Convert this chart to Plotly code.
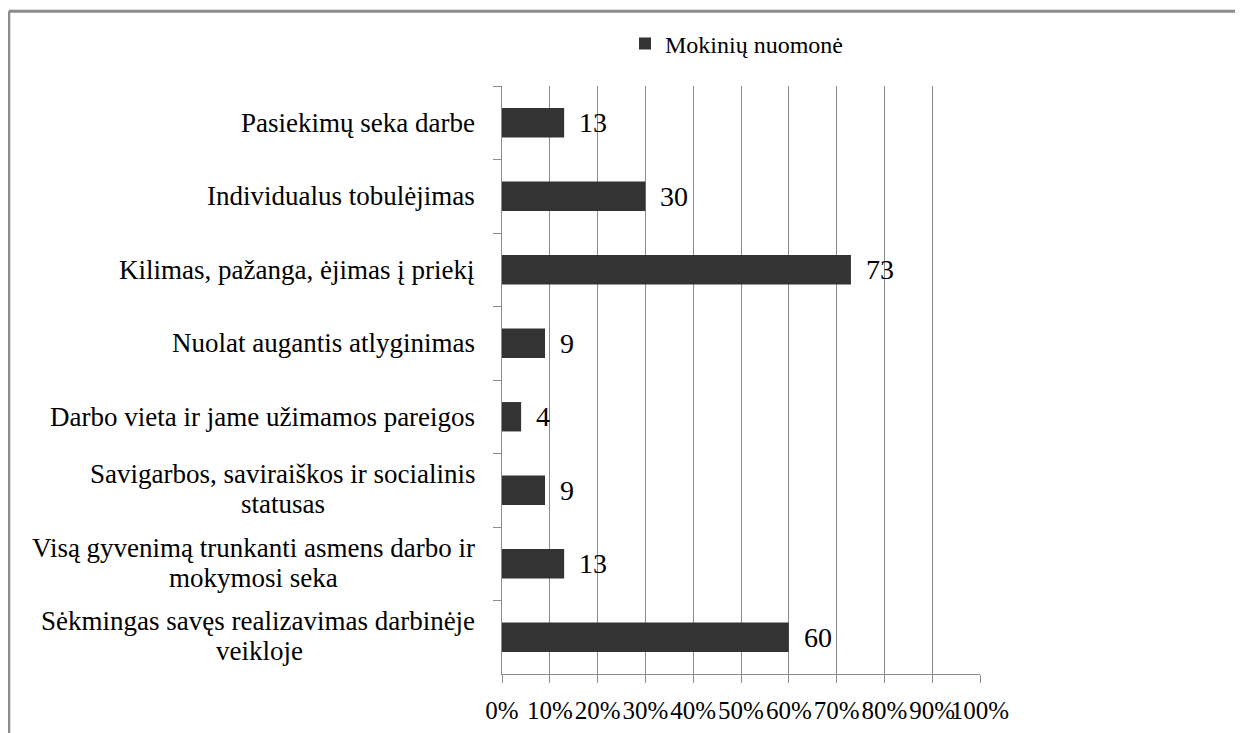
import plotly.graph_objects as go

categories = [
    "Pasiekimų seka darbe",
    "Individualus tobulėjimas",
    "Kilimas, pažanga, ėjimas į priekį",
    "Nuolat augantis atlyginimas",
    "Darbo vieta ir jame užimamos pareigos",
    "Savigarbos, saviraiškos ir socialinis<br>statusas",
    "Visą gyvenimą trunkanti asmens darbo ir<br>mokymosi seka",
    "Sėkmingas savęs realizavimas darbinėje<br>veikloje",
]
values = [13, 30, 73, 9, 4, 9, 13, 60]
series_name = "Mokinių nuomonė"
tick_vals = [0, 10, 20, 30, 40, 50, 60, 70, 80, 90, 100]
tick_text = [f"{v}%" for v in tick_vals]

FONT = "Liberation Serif"
GRID = "#8c8c8c"

# page body adds an 8px offset; figure coordinates below are page - 8
W, H = 1235, 725
px_l, px_r, px_t, px_b = 494, 972, 78, 666

def fx(p):
    return (p - px_l) / (px_r - px_l)
def fy(p):
    return (px_b - p) / (px_b - px_t)

fig = go.Figure()
fig.add_trace(go.Bar(
    x=values, y=categories, orientation="h", name=series_name,
    marker=dict(color="#333333", line=dict(width=0)),
    showlegend=True,
))

# approximate Times/Liberation Serif advance widths (em) to center following lines
W_EM = {}
for ch in "ilj.,'|!:;": W_EM[ch] = 0.278
for ch in "frtį": W_EM[ch] = 0.333
for ch in "sž": W_EM[ch] = 0.389
for ch in "ceėęazšą": W_EM[ch] = 0.444
for ch in "bdghknopquvxyų": W_EM[ch] = 0.5
W_EM["m"] = 0.778; W_EM["w"] = 0.722; W_EM[" "] = 0.25
W_EM.update({"S": 0.556, "V": 0.722, "P": 0.556, "I": 0.333, "K": 0.722, "N": 0.722, "D": 0.722})
def text_w(s, size):
    return sum(W_EM.get(ch, 0.5) for ch in s) * size

LABEL_SIZE = 27
LINE_H = 30
annotations = []
for c, v in zip(categories, values):
    annotations.append(dict(
        x=v, y=c, xref="x", yref="y", text=str(v), showarrow=False,
        xanchor="left", yanchor="middle", xshift=13,
        font=dict(family=FONT, size=28, color="#000000"),
    ))
    lines = c.split("<br>")
    n = len(lines)
    first_w = text_w(lines[0], LABEL_SIZE)
    for i, ln in enumerate(lines):
        off = (i - (n - 1) / 2) * LINE_H
        if i == 0:
            xa, xs = "right", -25
        else:
            xa, xs = "center", -25 - first_w / 2
        annotations.append(dict(
            x=0, y=c, xref="paper", yref="y", text=ln, showarrow=False,
            xanchor=xa, yanchor="middle", xshift=xs,
            yshift=-off + (1 if n > 1 else 0),
            font=dict(family=FONT, size=LABEL_SIZE, color="#000000"),
        ))

shapes = [
    dict(type="line", xref="paper", yref="paper", x0=fx(0.8), x1=fx(W + 10), y0=fy(3.2), y1=fy(3.2),
         line=dict(color="#8c8c8c", width=3)),
    dict(type="line", xref="paper", yref="paper", x0=fx(0.8), x1=fx(0.8), y0=fy(3.2), y1=fy(H + 10),
         line=dict(color="#8c8c8c", width=3)),
]

fig.update_layout(
    width=W, height=H,
    margin=dict(l=px_l, r=W - px_r, t=px_t, b=H - px_b, pad=0, autoexpand=False),
    paper_bgcolor="white", plot_bgcolor="white",
    bargap=0.6,
    font=dict(family=FONT, color="#000000"),
    xaxis=dict(
        range=[0, 100], tickvals=tick_vals, ticktext=tick_text, tickangle=0,
        showgrid=True, gridcolor=GRID, gridwidth=1,
        showline=True, linecolor=GRID, linewidth=1,
        ticks="outside", ticklen=8, tickcolor=GRID, ticklabelstandoff=6,
        tickfont=dict(family=FONT, size=25, color="#000000"),
        zeroline=False, fixedrange=True, automargin=False,
    ),
    yaxis=dict(
        type="category", autorange="reversed",
        showticklabels=False, tickson="boundaries",
        ticks="outside", ticklen=8, tickcolor=GRID,
        showline=True, linecolor=GRID, linewidth=1,
        showgrid=False, zeroline=False, fixedrange=True, automargin=False,
    ),
    legend=dict(
        orientation="h", x=fx(617), y=fy(36), xanchor="left", yanchor="middle",
        font=dict(family=FONT, size=24, color="#000000"),
        bgcolor="rgba(0,0,0,0)",
    ),
    annotations=annotations,
    shapes=shapes,
)

fig.write_html("out.html")
